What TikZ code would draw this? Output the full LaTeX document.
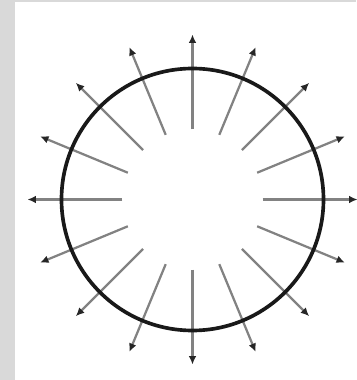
\documentclass[tikz,border=0pt]{standalone}
\usetikzlibrary{arrows.meta}
\definecolor{raygray}{RGB}{130,130,130}
\definecolor{framegray}{RGB}{217,217,217}
\begin{document}
\begin{tikzpicture}[x=0.025cm, y=0.025cm,
    ray/.style={-{Latex[length=6pt, width=5.5pt, color=black!85]}, raygray, line width=1.6pt},
    rim/.style={draw=black!90, line width=2.6pt},
  ]
  \useasboundingbox (-192.5,-180.5) rectangle (163.5,199.5);
  % frame strips
  \fill[framegray] (-192.5,-180.5) rectangle (-177.5,199.5);
  \fill[framegray] (-177.5,197.5) rectangle (163.5,199.5);
  % radial arrows
  \foreach \i in {0,...,15} {
    \coordinate (in\i) at (\i*22.5:70);
    \coordinate (out\i) at (\i*22.5:165);
    \draw[ray] (in\i) -- (out\i);
  }
  \draw[rim] (0,0) circle (131);
\end{tikzpicture}
\end{document}
